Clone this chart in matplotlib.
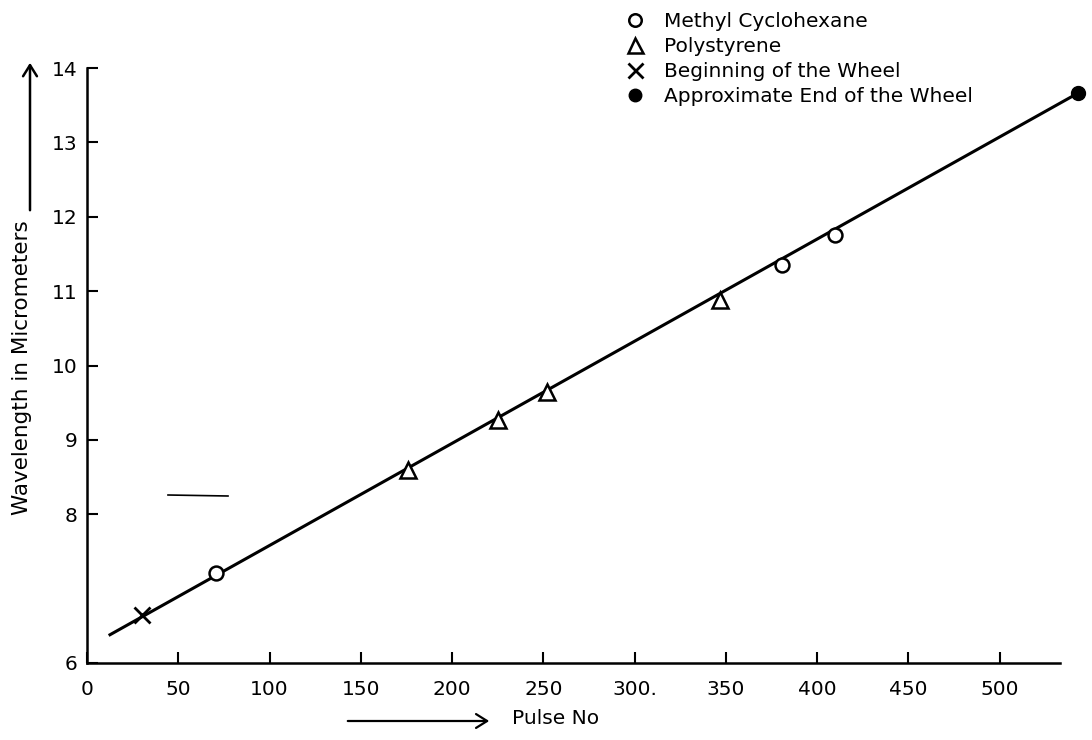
import matplotlib
matplotlib.use("Agg")
import matplotlib.pyplot as plt
from matplotlib.lines import Line2D
from matplotlib.patches import FancyArrowPatch

# Calibration points: pulse number vs wavelength (micrometers)
methyl_pulse = [70.6, 380.6, 409.6]
methyl_wl = [7.21, 11.35, 11.75]

poly_pulse = [175.8, 225.0, 252.0, 346.7]
poly_wl = [8.59, 9.27, 9.64, 10.88]

begin_pulse = [30.1]
begin_wl = [6.645]

end_pulse = [542.7]
end_wl = [13.66]

# Calibration line end points
fit_pulse = [12.6, 542.7]
fit_wl = [6.38, 13.66]

x_ticks = [0, 50, 100, 150, 200, 250, 300, 350, 400, 450, 500]
x_tick_labels = ["0", "50", "100", "150", "200", "250", "300.", "350", "400", "450", "500"]
y_ticks = [6, 8, 9, 10, 11, 12, 13, 14]
y_tick_labels = ["6", "8", "9", "10", "11", "12", "13", "14"]

plt.rcParams["font.family"] = ["DejaVu Sans"]

fig = plt.figure(figsize=(10.92, 7.40), dpi=100)
ax = fig.add_axes([87 / 1092, 1 - 663 / 740, 973 / 1092, 595 / 740])

ax.plot(fit_pulse, fit_wl, color="black", lw=2.2, zorder=2, clip_on=False)

ax.plot(methyl_pulse, methyl_wl, ls="none", marker="o", ms=10, mfc="white",
        mec="black", mew=1.8, zorder=3, label="Methyl Cyclohexane")
ax.plot(poly_pulse, poly_wl, ls="none", marker="^", ms=12, mfc="white",
        mec="black", mew=1.8, zorder=3, label="Polystyrene")
ax.plot(begin_pulse, begin_wl, ls="none", marker="x", ms=12, mec="black",
        mew=2.0, zorder=3, label="Beginning of the Wheel")
ax.plot(end_pulse, end_wl, ls="none", marker="o", ms=10, mfc="black",
        mec="black", zorder=3, clip_on=False, label="Approximate End of the Wheel")

ax.set_xlim(0, 533)
ax.set_ylim(6, 14)

for side in ("top", "right"):
    ax.spines[side].set_visible(False)
for side in ("left", "bottom"):
    ax.spines[side].set_linewidth(1.8)

ax.set_xticks(x_ticks)
ax.set_xticklabels(x_tick_labels)
ax.set_yticks(y_ticks)
ax.set_yticklabels(y_tick_labels)
ax.tick_params(axis="both", direction="in", length=8, width=1.5,
               labelsize=14.5, colors="black")
ax.tick_params(axis="x", pad=12)
ax.tick_params(axis="y", pad=7)

leg = ax.legend(loc="upper left", bbox_to_anchor=(615 / 1092, 1 - 2 / 740),
                bbox_transform=fig.transFigure, frameon=False, fontsize=14.5,
                handlelength=1.0, handletextpad=0.95, labelspacing=0.3,
                borderpad=0, markerscale=0.9)

# Axis captions with hand-drawn style arrows
fig.text(22 / 1092, 1 - 368 / 740, "Wavelength in Micrometers", rotation=90,
         ha="center", va="center", fontsize=15.5)
fig.add_artist(FancyArrowPatch(
    (30 / 1092, 1 - 213 / 740), (30 / 1092, 1 - 60 / 740),
    transform=fig.transFigure, arrowstyle="->,head_length=8,head_width=5",
    lw=1.8, color="black"))

fig.text(556 / 1092, 1 - 719 / 740, "Pulse No", ha="center", va="center",
         fontsize=14.5)
fig.add_artist(FancyArrowPatch(
    (345 / 1092, 1 - 721 / 740), (492 / 1092, 1 - 721 / 740),
    transform=fig.transFigure, arrowstyle="->,head_length=8,head_width=5",
    lw=1.6, color="black"))

# Stray ruling mark on the sheet
fig.add_artist(Line2D([168 / 1092, 228 / 1092], [1 - 495 / 740, 1 - 496 / 740],
                      transform=fig.transFigure, color="black", lw=1.2))

fig.savefig("out.png", dpi=100)
